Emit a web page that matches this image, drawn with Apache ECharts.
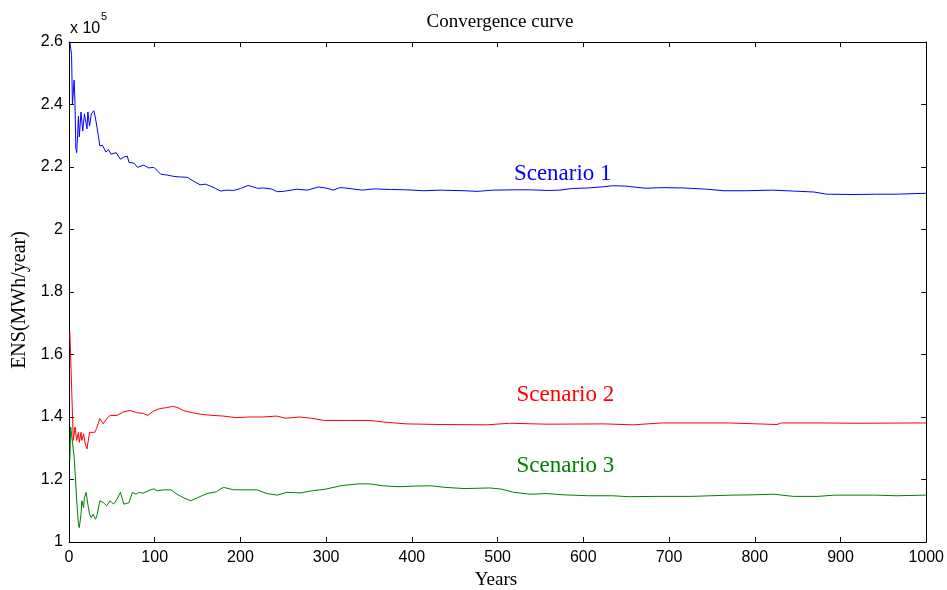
<!DOCTYPE html>
<html>
<head>
<meta charset="utf-8">
<script src="https://cdn.jsdelivr.net/npm/echarts@6/dist/echarts.min.js"></script>
<style>html,body{margin:0;padding:0;background:#fff}#c{width:947px;height:590px}</style>
</head>
<body>
<div id="c"></div>
<script>
// ENS values in MWh/year
const s1Years = [1,2,3,4,5,6,7,8,9,10,11,12,14,16,18,21,22,24,26,29,31,34,36,39,43,46,49,55,60,64,68,70,76,80,87,93,99,107,115,122,130,138,145,153,159,165,171,177,183,192,200,209,220,227,237,243,250,266,278,291,301,308,316,322,342,356,376,394,414,433,462,476,495,519,538,558,572,586,606,624,634,649,673,692,716,744,764,788,821,845,869,884,917,941,965,1000];
const s1Values = [260000,260000,256000,240000,240000,247800,240000,226000,224600,230000,236200,229600,237600,231500,237000,232200,237600,233100,237000,238000,235400,230500,226700,227000,224800,225600,224100,224600,222500,223200,223500,221500,221200,219900,220600,219700,219900,217700,217400,217000,216800,216700,215500,214300,214500,213900,213100,212300,212600,212500,213100,214100,213200,213300,212900,212100,212200,212900,212600,213600,213200,212600,213400,213300,212600,213000,212800,212700,212400,212600,212400,212200,212600,212700,212700,212500,212600,213100,213300,213700,214000,213900,213200,213400,213300,212900,212400,212400,212600,212300,212000,211300,211200,211300,211300,211600];

const s2Years = [1,2,5,7,9,11,12,14,15,17,19,21,24,26,30,32,36,40,44,48,56,63,71,79,87,92,98,106,114,121,127,133,145,156,168,180,195,211,226,242,253,269,283,298,327,351,366,394,433,488,514,558,624,658,692,769,771,826,831,879,881,917,1000];
const s2Values = [167300,167300,132500,136800,132500,135100,131900,135100,132500,134600,131400,129800,135100,134600,135100,136200,139500,137800,139500,140500,140500,141600,142100,141400,141100,140500,141800,142700,143000,143400,143000,142100,141300,140800,140500,140300,139800,140000,140000,140300,139600,140000,139600,138900,138900,138900,138400,137800,137600,137500,138000,137700,137800,137500,138100,138100,137600,137600,138100,138100,137600,138000,138100];

const s3Years = [1,2,4,6,7,9,11,12,14,15,17,18,20,22,24,26,28,31,33,36,40,44,48,52,56,60,64,70,74,78,82,86,91,95,99,103,111,119,126,134,142,150,161,172,180,192,204,219,231,243,254,270,284,299,317,337,351,366,385,404,423,438,462,491,505,519,538,558,577,606,634,653,687,726,749,773,798,822,845,874,893,941,965,1000];
const s3Values = [126000,136800,136300,127100,122800,113200,105700,104600,108900,113200,111000,114200,115900,112100,108900,107800,108900,107300,108900,113200,112600,111600,113200,112100,113700,115900,112100,112600,115900,115300,115900,115600,116200,116700,117000,116400,116700,116700,115300,114100,113200,114200,115500,116100,117500,116700,116700,116700,115500,115000,115900,115700,116400,116900,118000,118600,118600,118000,117700,117900,118000,117500,117100,117300,116900,115900,115300,115500,115100,114800,114800,114500,114600,114600,114800,115000,115100,115300,114600,114600,115000,115000,114800,115000];

const seriesNames = ['Scenario 1','Scenario 2','Scenario 3'];
const seriesColors = ['#0000ff','#ff0000','#008000'];
const xTicks = {min:0, max:1000, step:100};
const yTicks = {min:100000, max:260000, step:20000};
// annotation anchors (year, MWh/year)
const labelAnchors = [[576,217700],[579,146900],[579,124400]];

const chart = echarts.init(document.getElementById('c'), null, {renderer:'canvas'});
const pair = (xs, ys) => xs.map((x,i)=>[x, ys[i]]);
const datasets = [pair(s1Years,s1Values), pair(s2Years,s2Values), pair(s3Years,s3Values)];

const axisCommon = {
  axisLine:{show:true, onZero:false, lineStyle:{color:'#000', width:1}},
  axisTick:{show:true, inside:true, length:5, lineStyle:{color:'#000'}},
  splitLine:{show:false}
};

chart.setOption({
  animation:false,
  backgroundColor:'#fff',
  grid:{left:69, right:19, top:42, bottom:48, containLabel:false},
  xAxis:[
    Object.assign({type:'value', min:xTicks.min, max:xTicks.max, interval:xTicks.step, position:'bottom',
      axisLabel:{color:'#000', fontFamily:'Liberation Sans, Arial', fontSize:16, margin:8, formatter:v=>String(v)}}, axisCommon),
    Object.assign({type:'value', min:xTicks.min, max:xTicks.max, interval:xTicks.step, position:'top',
      axisLabel:{show:false}}, axisCommon)
  ],
  yAxis:[
    Object.assign({type:'value', min:yTicks.min, max:yTicks.max, interval:yTicks.step, position:'left',
      axisLabel:{color:'#000', fontFamily:'Liberation Sans, Arial', fontSize:16, margin:6,
        formatter:v=>String(Math.round(v/1e4)/10)}}, axisCommon),
    Object.assign({type:'value', min:yTicks.min, max:yTicks.max, interval:yTicks.step, position:'right',
      axisLabel:{show:false}}, axisCommon)
  ],
  series: datasets.map((d,i)=>({
    type:'line', name:seriesNames[i], data:d, xAxisIndex:0, yAxisIndex:0,
    showSymbol:false, symbol:'none', smooth:false,
    lineStyle:{color:seriesColors[i], width:1}, itemStyle:{color:seriesColors[i]},
    markPoint:{
      symbol:'circle', symbolSize:1, itemStyle:{color:'rgba(0,0,0,0)'},
      label:{show:true, position:'inside', formatter:'{b}', color:seriesColors[i],
        fontFamily:'Liberation Serif, Times New Roman', fontSize:23},
      data:[{name:seriesNames[i], coord:labelAnchors[i]}]
    }
  })),
  graphic:[
    {type:'text', x:500, y:22, style:{text:'Convergence curve', fill:'#000', font:'19px "Liberation Serif", "Times New Roman"', textAlign:'center', textVerticalAlign:'middle'}},
    {type:'text', x:496, y:580, style:{text:'Years', fill:'#000', font:'19px "Liberation Serif", "Times New Roman"', textAlign:'center', textVerticalAlign:'middle'}},
    {type:'text', x:20, y:300, rotation:Math.PI/2, style:{text:'ENS(MWh/year)', fill:'#000', font:'20px "Liberation Serif", "Times New Roman"', textAlign:'center', textVerticalAlign:'middle'}},
    {type:'text', x:70, y:29, style:{text:'x 10', fill:'#000', font:'16px "Liberation Sans", Arial', textAlign:'left', textVerticalAlign:'middle'}},
    {type:'text', x:101, y:17, style:{text:'5', fill:'#000', font:'11px "Liberation Sans", Arial', textAlign:'left', textVerticalAlign:'middle'}}
  ]
});
</script>
</body>
</html>
